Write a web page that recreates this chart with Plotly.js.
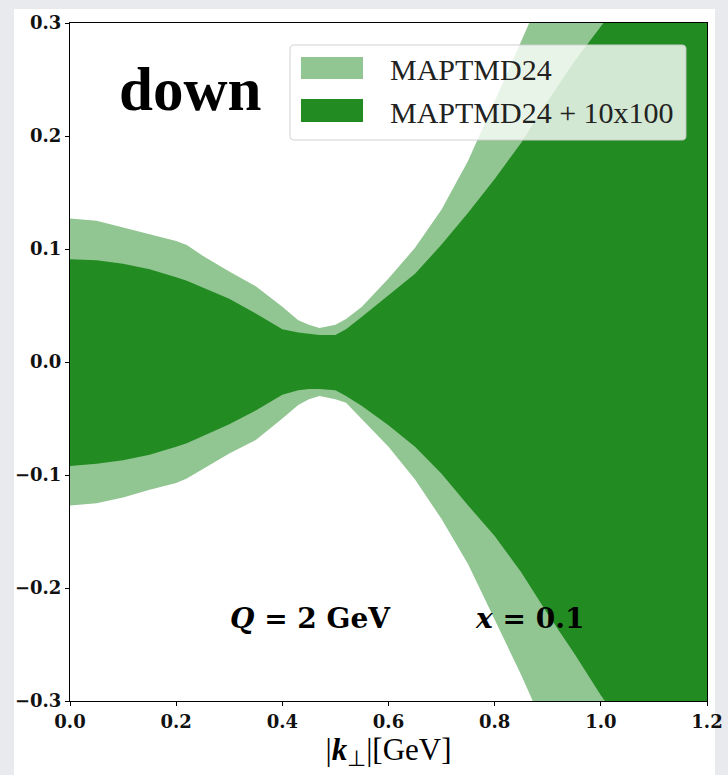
<!DOCTYPE html>
<html>
<head>
<meta charset="utf-8">
<script src="https://cdn.plot.ly/plotly-3.0.1.min.js"></script>
<style>
  html, body { margin: 0; padding: 0; background: #e9eaee; }
  #chart { width: 728px; height: 775px; }
</style>
</head>
<body>
<div id="chart"></div>
<script>
// k_perp grid (GeV)
const kperp = [0, 0.05, 0.1, 0.15, 0.2, 0.22, 0.25, 0.3, 0.35, 0.4, 0.43, 0.45, 0.47, 0.5, 0.52, 0.55, 0.6, 0.65, 0.7, 0.75, 0.8, 0.85, 0.9, 0.95, 1.0, 1.1, 1.2];

// MAPTMD24 band (light)
const mapUpper = [0.127, 0.125, 0.119, 0.113, 0.107, 0.1035, 0.094, 0.080, 0.067, 0.049, 0.037, 0.033, 0.030, 0.033, 0.038, 0.049, 0.074, 0.101, 0.135, 0.178, 0.232, 0.285, 0.338, 0.39, 0.44, 0.55, 0.66];
const mapLower = [-0.127, -0.125, -0.120, -0.113, -0.107, -0.103, -0.095, -0.081, -0.069, -0.050, -0.038, -0.033, -0.030, -0.033, -0.036, -0.051, -0.075, -0.104, -0.139, -0.179, -0.228, -0.277, -0.33, -0.38, -0.43, -0.53, -0.63];

// MAPTMD24 + 10x100 band (dark)
const plusUpper = [0.091, 0.090, 0.087, 0.082, 0.075, 0.072, 0.066, 0.056, 0.043, 0.029, 0.026, 0.025, 0.024, 0.024, 0.029, 0.040, 0.059, 0.078, 0.104, 0.132, 0.162, 0.194, 0.231, 0.266, 0.297, 0.36, 0.43];
const plusLower = [-0.092, -0.090, -0.087, -0.082, -0.075, -0.072, -0.066, -0.055, -0.043, -0.029, -0.025, -0.024, -0.024, -0.025, -0.030, -0.039, -0.056, -0.075, -0.099, -0.127, -0.154, -0.186, -0.223, -0.258, -0.295, -0.36, -0.43];

const seriesNames = ["MAPTMD24", "MAPTMD24 + 10x100"];
const xTicks = [0.0, 0.2, 0.4, 0.6, 0.8, 1.0, 1.2];
const yTicks = [-0.3, -0.2, -0.1, 0.0, 0.1, 0.2, 0.3];

const LIGHT = "#91c591";
const DARK = "#228b22";

function band(upper, lower, color, name) {
  return {
    x: kperp.concat(kperp.slice().reverse()),
    y: upper.concat(lower.slice().reverse()),
    type: "scatter", mode: "lines", fill: "toself",
    fillcolor: color, line: {width: 0, color: color},
    name: name, showlegend: false, hoverinfo: "skip"
  };
}

const traces = [
  band(mapUpper, mapLower, LIGHT, seriesNames[0]),
  band(plusUpper, plusLower, DARK, seriesNames[1])
];

const tickFont = {family: "DejaVu Serif", size: 18, color: "#111", weight: "bold"};

function rrect(x0, y0, x1, y1, rx, ry) {
  return `M${x0+rx},${y0} L${x1-rx},${y0} Q${x1},${y0} ${x1},${y0+ry} L${x1},${y1-ry} Q${x1},${y1} ${x1-rx},${y1} L${x0+rx},${y1} Q${x0},${y1} ${x0},${y1-ry} L${x0},${y0+ry} Q${x0},${y0} ${x0+rx},${y0} Z`;
}

const layout = {
  width: 728, height: 775,
  margin: {l: 70, r: 21, t: 23, b: 74},
  paper_bgcolor: "#e9eaee",
  plot_bgcolor: "#ffffff",
  showlegend: false,
  xaxis: {
    range: [0, 1.2], tickvals: xTicks, ticktext: xTicks.map(v => v.toFixed(1)),
    ticks: "outside", ticklen: 4, tickcolor: "#000", tickwidth: 1,
    showline: true, linecolor: "#000", linewidth: 1, mirror: true,
    showgrid: false, zeroline: false, tickfont: tickFont,
    title: {text: "|<b><i>k</i></b><sub>⊥</sub>|[GeV]", font: {family: "Liberation Serif", size: 31, color: "#000"}, standoff: 4}
  },
  yaxis: {
    range: [-0.3, 0.3], tickvals: yTicks, ticktext: yTicks.map(v => (v < 0 ? "\u2212" + Math.abs(v).toFixed(1) : v.toFixed(1))),
    ticks: "outside", ticklen: 4, tickcolor: "#000", tickwidth: 1,
    showline: true, linecolor: "#000", linewidth: 1, mirror: true,
    showgrid: false, zeroline: false, tickfont: tickFont
  },
  shapes: [
    // white card
    {type: "rect", xref: "paper", yref: "paper", x0: -0.0879, x1: 1.0126, y0: -0.12, y1: 1.0206,
     fillcolor: "#ffffff", line: {width: 0}, layer: "below"},
    // legend frame
    {type: "path", xref: "paper", yref: "paper", path: rrect(0.3454, 0.8274, 0.967, 0.9676, 0.0063, 0.0059),
     fillcolor: "rgba(255,255,255,0.8)", line: {color: "rgba(204,204,204,0.9)", width: 1}, layer: "above"},
    // legend swatches
    {type: "rect", xref: "paper", yref: "paper", x0: 0.3626, x1: 0.46, y0: 0.9174, y1: 0.9499,
     fillcolor: LIGHT, line: {width: 0}, layer: "above"},
    {type: "rect", xref: "paper", yref: "paper", x0: 0.3626, x1: 0.46, y0: 0.854, y1: 0.8879,
     fillcolor: DARK, line: {width: 0}, layer: "above"}
  ],
  annotations: [
    {text: seriesNames[0], xref: "paper", yref: "paper", x: 0.4992, y: 0.932, xanchor: "left", yanchor: "middle",
     showarrow: false, font: {family: "Liberation Serif", size: 30, color: "#222"}},
    {text: seriesNames[1], xref: "paper", yref: "paper", x: 0.4992, y: 0.868, xanchor: "left", yanchor: "middle",
     showarrow: false, font: {family: "Liberation Serif", size: 30, color: "#222"}},
    {text: "<b>down</b>", xref: "paper", yref: "paper", x: 0.1884, y: 0.902, xanchor: "center", yanchor: "middle",
     showarrow: false, font: {family: "Liberation Serif", size: 61, color: "#000"}},
    {text: "<b><i>Q</i> = 2 GeV</b>", xref: "paper", yref: "paper", x: 0.3776, y: 0.121, xanchor: "center", yanchor: "middle",
     showarrow: false, font: {family: "DejaVu Serif", size: 28, color: "#000"}},
    {text: "<b><i>x</i> = 0.1</b>", xref: "paper", yref: "paper", x: 0.7221, y: 0.121, xanchor: "center", yanchor: "middle",
     showarrow: false, font: {family: "DejaVu Serif", size: 28, color: "#000"}}
  ]
};

Plotly.newPlot("chart", traces, layout, {displayModeBar: false, staticPlot: true});
</script>
</body>
</html>
